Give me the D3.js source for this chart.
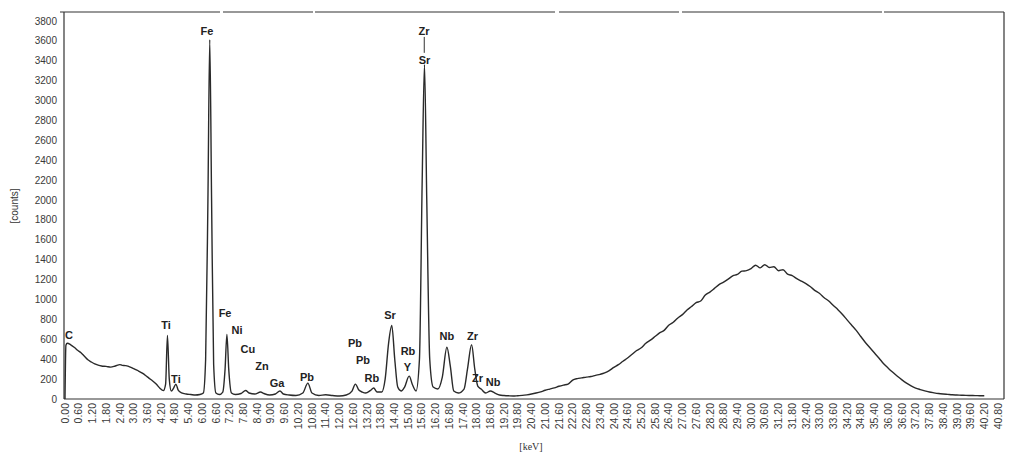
<!DOCTYPE html>
<html>
<head>
<meta charset="utf-8">
<script src="https://cdn.jsdelivr.net/npm/d3@7"></script>
<style>
  body { margin: 0; background: #fff; }
  svg { display: block; }
  .tick-y { font: 10px "Liberation Sans", Arial, sans-serif; fill: #3a3a3a; }
  .tick-x { font: 10.5px "Liberation Sans", Arial, sans-serif; fill: #3a3a3a; }
  .peak { font: bold 11px "Liberation Sans", Arial, sans-serif; fill: #222; }
  .spectrum { fill: none; stroke: #2a2a2a; stroke-width: 1.4; stroke-linejoin: round; }
  .frame { stroke: #333; stroke-width: 1.2; fill: none; }
</style>
</head>
<body>
<svg width="1009" height="462"></svg>
<script>
// y ticks every 200 counts, x ticks every 0.60 keV (labels as printed)
const yTicks = [0, 200, 400, 600, 800, 1000, 1200, 1400, 1600, 1800, 2000,
  2200, 2400, 2600, 2800, 3000, 3200, 3400, 3600, 3800];
const xTicks = ["0.00", "0.60", "1.20", "1.80", "2.40", "3.00", "3.60", "4.20",
  "4.80", "5.40", "6.00", "6.60", "7.20", "7.80", "8.40", "9.00", "9.60",
  "10.20", "10.80", "11.40", "12.00", "12.60", "13.20", "13.80", "14.40",
  "15.00", "15.60", "16.20", "16.80", "17.40", "18.00", "18.60", "19.20",
  "19.80", "20.40", "21.00", "21.60", "22.20", "22.80", "23.40", "24.00",
  "24.60", "25.20", "25.80", "26.40", "27.00", "27.60", "28.20", "28.80",
  "29.40", "30.00", "30.60", "31.20", "31.80", "32.40", "33.00", "33.60",
  "34.20", "34.80", "35.40", "36.00", "36.60", "37.20", "37.80", "38.40",
  "39.00", "39.60", "40.20", "40.80"];

// spectrum: [keV, counts]
const lowEnergy = [
  [0.00, 0], [0.04, 540], [0.10, 560], [0.25, 545], [0.40, 520], [0.55, 490],
  [0.70, 465], [0.85, 430], [1.00, 395], [1.15, 372], [1.30, 352], [1.45, 340],
  [1.60, 332], [1.80, 328], [2.00, 320], [2.20, 332], [2.40, 346], [2.50, 338],
  [2.65, 336], [2.80, 326], [3.00, 305], [3.20, 284], [3.40, 258], [3.60, 222],
  [3.80, 188], [4.00, 148], [4.15, 108], [4.30, 84], [4.40, 150], [4.48, 640],
  [4.56, 200], [4.65, 80], [4.75, 110], [4.85, 150], [4.95, 90], [5.10, 62],
  [5.30, 50], [5.50, 45], [5.70, 40], [5.90, 45]
];
const midEnergy = [
  [6.05, 60], [6.15, 400], [6.25, 2000], [6.33, 3610], [6.41, 2000], [6.50, 350],
  [6.60, 60], [6.75, 45], [6.90, 70], [7.00, 300], [7.08, 650], [7.16, 300],
  [7.28, 60], [7.45, 45], [7.70, 55], [7.90, 85], [8.05, 60], [8.30, 50],
  [8.55, 70], [8.70, 55], [8.95, 40], [9.20, 50], [9.40, 80], [9.55, 50],
  [9.80, 40], [10.10, 35], [10.40, 60], [10.62, 160], [10.80, 60], [11.10, 35],
  [11.40, 42], [11.70, 35], [12.00, 30], [12.30, 40], [12.55, 80], [12.70, 150],
  [12.85, 90], [13.00, 70], [13.15, 60], [13.35, 85], [13.50, 110], [13.65, 70],
  [13.85, 70], [14.00, 200], [14.15, 560], [14.29, 740], [14.42, 400],
  [14.55, 120], [14.70, 80], [14.85, 120], [15.05, 230], [15.20, 140],
  [15.35, 80], [15.50, 400], [15.62, 2200], [15.72, 3360], [15.82, 2000],
  [15.95, 400], [16.10, 120], [16.30, 100], [16.50, 220], [16.70, 520],
  [16.85, 330], [17.00, 80], [17.20, 60], [17.45, 100], [17.60, 300],
  [17.78, 545], [17.92, 300], [18.05, 130], [18.20, 100], [18.40, 60],
  [18.60, 80], [18.80, 60]
];
const highEnergy = [
  [19.0, 40], [19.2, 35], [19.4, 32], [19.6, 30], [19.8, 33], [20.0, 36],
  [20.2, 42], [20.4, 50], [20.6, 60], [20.8, 72], [21.0, 88], [21.2, 100],
  [21.4, 112], [21.6, 128], [21.8, 140], [22.0, 150], [22.2, 190], [22.4, 205],
  [22.6, 212], [22.8, 220], [23.0, 226], [23.2, 238], [23.4, 248], [23.6, 262],
  [23.8, 285], [24.0, 318], [24.2, 345], [24.4, 380], [24.6, 412], [24.8, 450],
  [25.0, 488], [25.2, 515], [25.4, 560], [25.6, 592], [25.8, 628], [26.0, 665],
  [26.2, 690], [26.4, 742], [26.6, 772], [26.8, 815], [27.0, 848], [27.2, 895],
  [27.4, 930], [27.6, 968], [27.8, 985], [28.0, 1045], [28.2, 1075],
  [28.4, 1112], [28.6, 1150], [28.8, 1175], [29.0, 1205], [29.2, 1238],
  [29.4, 1252], [29.6, 1285], [29.8, 1290], [30.0, 1310], [30.2, 1345],
  [30.4, 1318], [30.6, 1350], [30.8, 1322], [31.0, 1330], [31.2, 1290],
  [31.4, 1300], [31.6, 1255], [31.8, 1240], [32.0, 1210], [32.2, 1185],
  [32.4, 1160], [32.6, 1128], [32.8, 1090], [33.0, 1060], [33.2, 1018],
  [33.4, 985], [33.6, 940], [33.8, 898], [34.0, 850], [34.2, 795], [34.4, 742],
  [34.6, 690], [34.8, 628], [35.0, 568], [35.2, 515], [35.4, 462], [35.6, 410],
  [35.8, 355], [36.0, 310], [36.2, 268], [36.4, 228], [36.6, 192], [36.8, 160],
  [37.0, 132], [37.2, 110], [37.4, 95], [37.6, 82], [37.8, 70], [38.0, 62],
  [38.2, 55], [38.4, 50], [38.6, 46], [38.8, 42], [39.0, 40], [39.2, 38],
  [39.4, 36], [39.6, 35], [39.8, 34], [40.0, 33], [40.2, 32]
];

// element labels: [name, keV, counts] where the label sits
const peakLabels = [
  ["C", 0.17, 643], ["Ti", 4.42, 744], ["Ti", 4.85, 201], ["Fe", 6.21, 3700],
  ["Fe", 7.00, 865], ["Ni", 7.52, 694], ["Cu", 8.00, 503], ["Zn", 8.61, 332],
  ["Ga", 9.27, 161], ["Pb", 10.58, 221], ["Pb", 12.68, 563], ["Pb", 13.03, 392],
  ["Rb", 13.42, 211], ["Sr", 14.21, 845], ["Rb", 15.00, 483], ["Y", 14.97, 322],
  ["Zr", 15.70, 3700], ["Sr", 15.72, 3408], ["Nb", 16.70, 633],
  ["Zr", 17.82, 633], ["Zr", 18.04, 211], ["Nb", 18.72, 171]
];

const svg = d3.select("svg");

const x = d3.scaleLinear().domain([0, 40.8]).range([65, 998]);
const y = d3.scaleLinear().domain([0, 3800]).range([399, 21]);

const frameTop = 12, frameBottom = 399, frameLeft = 64, frameRight = 1004;

// frame
svg.append("line").attr("class", "frame")
  .attr("x1", frameLeft - 4).attr("x2", frameRight).attr("y1", frameTop).attr("y2", frameTop)
  .attr("stroke", "#555").attr("stroke-dasharray", "160,3,90,2,240,4,120,3,200,2");
svg.append("line").attr("class", "frame")
  .attr("x1", frameRight).attr("x2", frameRight).attr("y1", frameTop).attr("y2", frameBottom);
svg.append("line").attr("class", "frame")
  .attr("x1", frameLeft).attr("x2", frameLeft).attr("y1", frameTop).attr("y2", frameBottom);
svg.append("line").attr("class", "frame")
  .attr("x1", frameLeft).attr("x2", frameRight).attr("y1", frameBottom).attr("y2", frameBottom);

// y labels
svg.append("g").selectAll("text")
  .data(yTicks)
  .join("text")
  .attr("class", "tick-y")
  .attr("x", 57)
  .attr("y", d => y(d))
  .attr("dy", "0.35em")
  .attr("text-anchor", "end")
  .text(d => d);

// x labels, rotated
svg.append("g").selectAll("text")
  .data(xTicks)
  .join("text")
  .attr("class", "tick-x")
  .attr("text-anchor", "end")
  .attr("transform", d => `translate(${x(+d)},${frameBottom + 4}) rotate(-90)`)
  .attr("dy", "0.35em")
  .text(d => d);

// axis titles
svg.append("text")
  .attr("transform", "translate(14,206) rotate(-90)")
  .attr("text-anchor", "middle")
  .attr("dy", "0.35em")
  .style("font", "10px 'Liberation Sans', Arial, sans-serif")
  .style("fill", "#333")
  .text("[counts]");

svg.append("text")
  .attr("x", 531).attr("y", 450)
  .attr("text-anchor", "middle")
  .style("font", "10px 'Liberation Serif', 'Times New Roman', serif")
  .style("fill", "#333")
  .text("[keV]");

// spectrum
const spectrum = lowEnergy.concat(midEnergy, highEnergy);
const line = d3.line()
  .x(d => x(d[0]))
  .y(d => y(d[1]))
  .curve(d3.curveMonotoneX);

svg.append("path")
  .datum(spectrum)
  .attr("class", "spectrum")
  .attr("d", line);

// element labels
svg.append("g").selectAll("text")
  .data(peakLabels)
  .join("text")
  .attr("class", "peak")
  .attr("x", d => x(d[1]))
  .attr("y", d => y(d[2]))
  .attr("dy", "0.35em")
  .attr("text-anchor", "middle")
  .text(d => d[0]);

// little connector between the Zr / Sr labels
svg.append("line")
  .attr("x1", x(15.71)).attr("x2", x(15.71))
  .attr("y1", y(3640)).attr("y2", y(3480))
  .attr("stroke", "#333").attr("stroke-width", 1);
</script>
</body>
</html>
